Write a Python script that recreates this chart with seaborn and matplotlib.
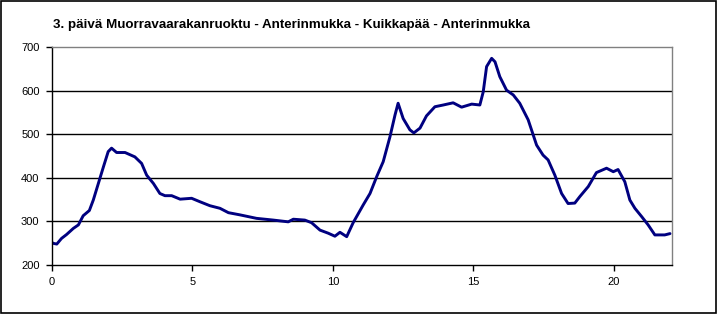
import matplotlib
matplotlib.use("Agg")
import matplotlib.pyplot as plt
import seaborn as sns
import pandas as pd
from matplotlib.patches import Rectangle

title = "3. päivä Muorravaarakanruoktu - Anterinmukka - Kuikkapää - Anterinmukka"

distance_km = [0.0, 0.02, 0.17, 0.34, 0.52, 0.76, 0.94, 1.11, 1.33, 1.47, 1.65, 1.83,
               2.0, 2.12, 2.30, 2.60, 2.95, 3.19, 3.37, 3.61, 3.84, 4.02, 4.26, 4.56,
               4.97, 5.27, 5.62, 5.98, 6.28, 6.69, 7.28, 7.88, 8.41, 8.59, 9.0, 9.24,
               9.54, 9.83, 10.07, 10.25, 10.49, 10.72, 11.08, 11.32, 11.56, 11.79,
               12.03, 12.21, 12.32, 12.50, 12.74, 12.88, 13.10, 13.33, 13.63, 13.93,
               14.28, 14.58, 14.94, 15.23, 15.35, 15.47, 15.65, 15.77, 15.94, 16.18,
               16.42, 16.65, 16.95, 17.25, 17.48, 17.66, 17.90, 18.14, 18.37, 18.61,
               18.79, 19.09, 19.38, 19.74, 19.98, 20.15, 20.39, 20.57, 20.75, 20.99,
               21.22, 21.46, 21.81, 22.0]
elevation_m = [252, 250, 248, 261, 270, 284, 292, 313, 325, 349, 387, 425,
               460, 468, 458, 458, 448, 433, 406, 387, 364, 359, 359, 351,
               353, 345, 336, 330, 320, 315, 307, 303, 299, 305, 303, 297,
               280, 273, 266, 275, 265, 297, 338, 364, 403, 437,
               494, 544, 571, 536, 510, 503, 514, 542, 563, 567,
               572, 562, 569, 567, 597, 655, 674, 666, 632, 601,
               590, 571, 533, 475, 452, 441, 406, 364, 341, 342,
               357, 380, 412, 422, 414, 419, 391, 349, 330, 311,
               292, 269, 269, 272]

x_ticks = [0, 5, 10, 15, 20]
y_ticks = [200, 300, 400, 500, 600, 700]

df = pd.DataFrame({"km": distance_km, "m": elevation_m})

sns.set_style("white")
plt.rcParams["font.family"] = ["Liberation Sans", "DejaVu Sans"]

fig = plt.figure(figsize=(7.18, 3.14), dpi=100)
ax = fig.add_axes([52 / 718, 1 - 265 / 314, 620 / 718, 218 / 314])

sns.lineplot(data=df, x="km", y="m", ax=ax, color="#000080", linewidth=2.1)

ax.set_xlim(0, 22.07)
ax.set_ylim(200, 700)
ax.set_xticks(x_ticks)
ax.set_yticks(y_ticks)
ax.set_xlabel("")
ax.set_ylabel("")
for yv in y_ticks[1:-1]:
    ax.axhline(yv, color="black", linewidth=1.0, zorder=0)

ax.tick_params(axis="both", direction="out", length=4, width=1, color="black",
               labelsize=8, labelcolor="black", left=True, bottom=True)
ax.tick_params(axis="y", pad=5)
ax.tick_params(axis="x", pad=4.5)
for s in ["left", "bottom"]:
    ax.spines[s].set_color("black")
    ax.spines[s].set_linewidth(1.0)
for s in ["top", "right"]:
    ax.spines[s].set_color("#808080")
    ax.spines[s].set_linewidth(1.0)

fig.text(53 / 718, 1 - 25 / 314, title, fontsize=9.6, fontweight="bold",
         ha="left", va="center", color="black")

fig.patches.append(Rectangle((0.002, 0.003), 0.995, 0.994, transform=fig.transFigure,
                             fill=False, edgecolor="black", linewidth=1.2))

fig.savefig("out.png", dpi=100)
